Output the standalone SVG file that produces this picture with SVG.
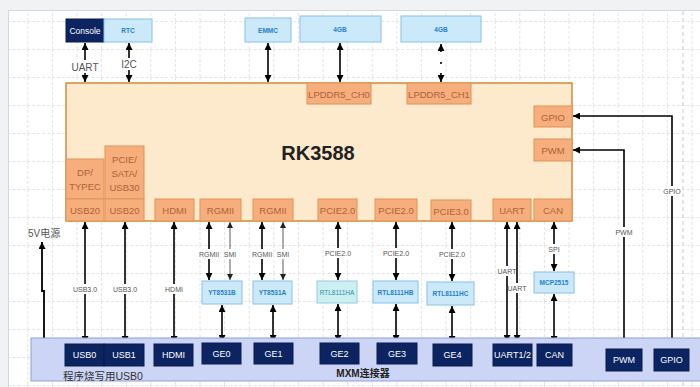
<svg xmlns="http://www.w3.org/2000/svg" width="700" height="387" viewBox="0 0 700 387">
<defs>
<pattern id="grid" x="2.7" y="21" width="24.6" height="28" patternUnits="userSpaceOnUse">
<path d="M0.5,0 V28 M0,0.5 H24.6" fill="none" stroke="#e4e4e4" stroke-width="1" stroke-dasharray="3,2"/>
</pattern>
<marker id="ah" viewBox="0 0 10 10" refX="10" refY="5" markerWidth="7" markerHeight="7" markerUnits="userSpaceOnUse" orient="auto-start-reverse">
<path d="M0,0 L10,5 L0,10 z" fill="#000"/>
</marker>
<marker id="ahs" viewBox="0 0 10 10" refX="10" refY="5" markerWidth="6" markerHeight="6" markerUnits="userSpaceOnUse" orient="auto-start-reverse">
<path d="M0,0 L10,5 L0,10 z" fill="#222"/>
</marker>
</defs>
<style>
.ff{font-family:"Liberation Sans","Noto Sans CJK SC",sans-serif}
.port{fill:#f5ae7c;stroke:#e29356;stroke-width:1}
.ptxt{font-family:"Liberation Sans",sans-serif;font-size:9.5px;fill:#b0623a;text-anchor:middle;dominant-baseline:central}
.lb{fill:#cce9fa;stroke:#86c2e9;stroke-width:1}
.lbtxt{font-family:"Liberation Sans",sans-serif;font-size:6.5px;font-weight:bold;fill:#1f7fd0;text-anchor:middle;dominant-baseline:central}
.nv{fill:#0c2461;stroke:#0a1d4e;stroke-width:1}
.nvtxt{font-family:"Liberation Sans",sans-serif;font-size:9px;fill:#fff;text-anchor:middle;dominant-baseline:central}
.ln{fill:none;stroke:#000;stroke-width:1.6;marker-start:url(#ah);marker-end:url(#ah)}
.one{fill:none;stroke:#000;stroke-width:1.6;marker-end:url(#ah)}
.thin{fill:none;stroke:#333;stroke-width:0.8;marker-start:url(#ahs);marker-end:url(#ahs)}
.elab{font-family:"Liberation Sans",sans-serif;font-size:7px;fill:#555;text-anchor:middle;dominant-baseline:central}
.bg{fill:#fff}
</style>
<rect x="0" y="0" width="700" height="387" fill="#f1f2f4"/>
<rect x="8.5" y="10.5" width="700" height="380" fill="#fff" stroke="#d6d8db"/>
<rect x="9" y="11" width="691" height="376" fill="url(#grid)"/>
<line x1="683" y1="11" x2="683" y2="387" stroke="#c9c9c9" stroke-dasharray="4,3"/>

<g id="connectors">
<path class="ln" d="M85,43 V82"/>
<rect class="bg" x="72" y="60" width="26" height="13"/>
<text class="elab" x="85" y="67" style="font-size:10px">UART</text>
<path class="ln" d="M129,43 V82"/>
<rect class="bg" x="120" y="58" width="18" height="12"/>
<text class="elab" x="129" y="64" style="font-size:10px">I2C</text>
<path class="ln" d="M268,43 V82"/>
<path class="ln" d="M340,43 V82"/>
<path class="one" d="M441,52 V44"/>
<circle cx="441" cy="63" r="1.1" fill="#000"/>
<path class="one" d="M441,73 V82"/>

<path d="M44,338 V291 H42 V242" fill="none" stroke="#000" stroke-width="1.8" marker-end="url(#ah)"/>
<text class="ff" x="28" y="233" font-size="10" fill="#555" dominant-baseline="central">5V电源</text>

<path class="ln" d="M85,222 V343"/>
<rect class="bg" x="72" y="284" width="26" height="10"/>
<text class="elab" x="85" y="289">USB3.0</text>
<path class="ln" d="M125,222 V343"/>
<rect class="bg" x="112" y="284" width="26" height="10"/>
<text class="elab" x="125" y="289">USB3.0</text>
<path class="ln" d="M174,222 V343"/>
<rect class="bg" x="163" y="284" width="22" height="10"/>
<text class="elab" x="174" y="289">HDMI</text>

<path class="ln" d="M209,222 V280"/>
<rect class="bg" x="198" y="249" width="22" height="10"/>
<text class="elab" x="209" y="254">RGMII</text>
<path class="thin" d="M230,222 V280"/>
<rect class="bg" x="223" y="249" width="14" height="10"/>
<text class="elab" x="230" y="254">SMI</text>
<path class="ln" d="M222,305 V342"/>

<path class="ln" d="M262,222 V280"/>
<rect class="bg" x="251" y="249" width="22" height="10"/>
<text class="elab" x="262" y="254">RGMII</text>
<path class="thin" d="M283,222 V280"/>
<rect class="bg" x="276" y="249" width="14" height="10"/>
<text class="elab" x="283" y="254">SMI</text>
<path class="ln" d="M273,305 V342"/>

<path class="ln" d="M338,222 V280"/>
<rect class="bg" x="325" y="248" width="26" height="10"/>
<text class="elab" x="338" y="253">PCIE2.0</text>
<path class="ln" d="M338,304 V342"/>

<path class="ln" d="M396,222 V280"/>
<rect class="bg" x="383" y="248" width="26" height="10"/>
<text class="elab" x="396" y="253">PCIE2.0</text>
<path class="ln" d="M396,304 V342"/>

<path class="ln" d="M452,222 V281"/>
<rect class="bg" x="439" y="249" width="26" height="10"/>
<text class="elab" x="452" y="254">PCIE2.0</text>
<path class="ln" d="M452,306 V343"/>

<path class="ln" d="M507,222 V342"/>
<rect class="bg" x="498" y="266" width="18" height="10"/>
<text class="elab" x="507" y="271">UART</text>
<path class="ln" d="M517,222 V342"/>
<rect class="bg" x="508" y="283" width="18" height="10"/>
<text class="elab" x="517" y="288">UART</text>

<path class="ln" d="M554,222 V271"/>
<rect class="bg" x="548" y="244" width="12" height="10"/>
<text class="elab" x="554" y="249">SPI</text>
<path class="ln" d="M554,294 V343"/>

<path class="ln" d="M573,150 H624 V348"/>
<rect class="bg" x="614" y="227" width="20" height="10"/>
<text class="elab" x="624" y="232">PWM</text>
<path class="ln" d="M573,116 H672 V348"/>
<rect class="bg" x="662" y="186" width="20" height="10"/>
<text class="elab" x="672" y="191">GPIO</text>
</g>

<g id="console"><rect class="nv" x="66" y="19" width="38" height="23"/><text class="nvtxt" x="85" y="30.5" style="font-size:8.5px">Console</text></g>
<g id="rtc"><rect class="lb" x="104" y="19" width="48" height="23"/><text class="lbtxt" x="128" y="30.5">RTC</text></g>
<g id="emmc"><rect class="lb" x="245" y="18" width="46" height="24"/><text class="lbtxt" x="268" y="30">EMMC</text></g>
<g id="mem0"><rect class="lb" x="300" y="16" width="81" height="26"/><text class="lbtxt" x="340" y="29">4GB</text></g>
<g id="mem1"><rect class="lb" x="401" y="16" width="80" height="26"/><text class="lbtxt" x="441" y="29">4GB</text></g>

<g id="rk3588">
<rect x="66" y="83" width="506" height="138" fill="#fde9cb" stroke="#cf8b3c" stroke-width="1.5"/>
<text class="ff" x="318" y="153" font-size="20" font-weight="bold" fill="#222" text-anchor="middle" dominant-baseline="central">RK3588</text>
</g>
<g id="lpddr5_ch0"><rect class="port" x="307" y="83" width="64" height="21"/><text class="ptxt" x="339" y="94">LPDDR5_CH0</text></g>
<g id="lpddr5_ch1"><rect class="port" x="407" y="83" width="64" height="21"/><text class="ptxt" x="439" y="94">LPDDR5_CH1</text></g>
<g id="gpio_port"><rect class="port" x="534" y="106" width="38" height="21"/><text class="ptxt" x="553" y="117">GPIO</text></g>
<g id="pwm_port"><rect class="port" x="534" y="139" width="38" height="22"/><text class="ptxt" x="553" y="150">PWM</text></g>
<g id="dp_typec"><rect class="port" x="66" y="159" width="38" height="40"/><text class="ptxt" x="85" y="172">DP/</text><text class="ptxt" x="85" y="186">TYPEC</text></g>
<g id="usb20_a"><rect class="port" x="66" y="199" width="38" height="22"/><text class="ptxt" x="85" y="210">USB20</text></g>
<g id="pcie_sata"><rect class="port" x="105" y="146" width="39" height="53"/><text class="ptxt" x="124.5" y="159">PCIE/</text><text class="ptxt" x="124.5" y="173">SATA/</text><text class="ptxt" x="124.5" y="187">USB30</text></g>
<g id="usb20_b"><rect class="port" x="105" y="199" width="39" height="22"/><text class="ptxt" x="124.5" y="210">USB20</text></g>
<g id="hdmi_port"><rect class="port" x="155" y="199" width="39" height="22"/><text class="ptxt" x="174.5" y="210">HDMI</text></g>
<g id="rgmii_a"><rect class="port" x="200" y="199" width="41" height="22"/><text class="ptxt" x="220.5" y="210">RGMII</text></g>
<g id="rgmii_b"><rect class="port" x="253" y="199" width="40" height="22"/><text class="ptxt" x="273" y="210">RGMII</text></g>
<g id="pcie20_a"><rect class="port" x="318" y="199" width="39" height="22"/><text class="ptxt" x="337.5" y="210">PCIE2.0</text></g>
<g id="pcie20_b"><rect class="port" x="375" y="199" width="42" height="22"/><text class="ptxt" x="396" y="210">PCIE2.0</text></g>
<g id="pcie30"><rect class="port" x="431" y="200" width="40" height="21"/><text class="ptxt" x="451" y="211">PCIE3.0</text></g>
<g id="uart_port"><rect class="port" x="493" y="199" width="38" height="22"/><text class="ptxt" x="512" y="210">UART</text></g>
<g id="can_port"><rect class="port" x="534" y="199" width="38" height="22"/><text class="ptxt" x="553" y="210">CAN</text></g>

<g id="yt8531b"><rect class="lb" x="202" y="281" width="40" height="23"/><text class="lbtxt" x="222" y="292.5">YT8531B</text></g>
<g id="yt8531a"><rect class="lb" x="253" y="281" width="39" height="23"/><text class="lbtxt" x="272.5" y="292.5">YT8531A</text></g>
<g id="rtl8111ha"><rect x="317" y="281" width="40" height="22" fill="#cdeff2" stroke="#8fd0dc"/><text class="lbtxt" x="337" y="292" style="fill:#2a8fa6;font-weight:normal">RTL8111HA</text></g>
<g id="rtl8111hb"><rect class="lb" x="373" y="281" width="45" height="22"/><text class="lbtxt" x="395.5" y="292">RTL8111HB</text></g>
<g id="rtl8111hc"><rect class="lb" x="427" y="282" width="47" height="23"/><text class="lbtxt" x="450.5" y="293.5">RTL8111HC</text></g>
<g id="mcp2515"><rect class="lb" x="534" y="272" width="40" height="21"/><text class="lbtxt" x="554" y="282.5">MCP2515</text></g>

<g id="mxm">
<rect x="31" y="338" width="680" height="43" fill="#cdd5f6" stroke="#8e9fd9" stroke-width="1"/>
<text class="ff" x="63" y="376" font-size="10.5" fill="#333" dominant-baseline="central">程序烧写用USB0</text>
<text class="ff" x="363" y="373" font-size="10" font-weight="bold" fill="#222" text-anchor="middle" dominant-baseline="central">MXM连接器</text>
</g>
<g id="usb0"><rect class="nv" x="65" y="344" width="39" height="22"/><text class="nvtxt" x="84.5" y="355">USB0</text></g>
<g id="usb1"><rect class="nv" x="104" y="344" width="40" height="22"/><text class="nvtxt" x="124" y="355">USB1</text></g>
<g id="hdmi"><rect class="nv" x="154" y="344" width="39" height="22"/><text class="nvtxt" x="173.5" y="355">HDMI</text></g>
<g id="ge0"><rect class="nv" x="202" y="343" width="39" height="21"/><text class="nvtxt" x="221.5" y="354">GE0</text></g>
<g id="ge1"><rect class="nv" x="254" y="343" width="39" height="21"/><text class="nvtxt" x="273.5" y="354">GE1</text></g>
<g id="ge2"><rect class="nv" x="320" y="343" width="39" height="21"/><text class="nvtxt" x="339.5" y="354">GE2</text></g>
<g id="ge3"><rect class="nv" x="377" y="343" width="40" height="21"/><text class="nvtxt" x="397" y="354">GE3</text></g>
<g id="ge4"><rect class="nv" x="433" y="344" width="39" height="22"/><text class="nvtxt" x="452.5" y="355">GE4</text></g>
<g id="uart12"><rect class="nv" x="493" y="344" width="39" height="22"/><text class="nvtxt" x="512.5" y="355">UART1/2</text></g>
<g id="can"><rect class="nv" x="537" y="344" width="35" height="22"/><text class="nvtxt" x="554.5" y="355">CAN</text></g>
<g id="pwm"><rect class="nv" x="606" y="349" width="36" height="22"/><text class="nvtxt" x="624" y="360">PWM</text></g>
<g id="gpio"><rect class="nv" x="654" y="349" width="35" height="22"/><text class="nvtxt" x="671.5" y="360">GPIO</text></g>
</svg>
